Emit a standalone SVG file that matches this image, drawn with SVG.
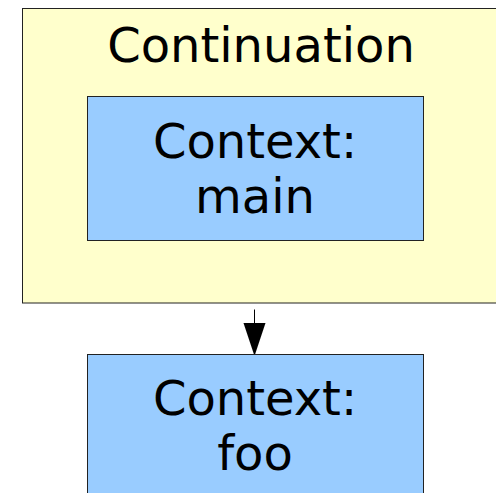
<svg xmlns="http://www.w3.org/2000/svg" width="496" height="493" viewBox="0 0 496 493">
  <style>
    .cont { fill: #ffffcc; stroke: #222; stroke-width: 1; }
    .ctx { fill: #99ccff; stroke: #222; stroke-width: 1; }
    .label { font-family: "DejaVu Sans", sans-serif; font-size: 48px; fill: #000; text-anchor: middle; }
    .edge { stroke: #000; stroke-width: 1; fill: none; }
  </style>
  <defs>
    <marker id="arrow" markerUnits="userSpaceOnUse" markerWidth="34" markerHeight="24" refX="33" refY="11" orient="auto">
      <path d="M0,0 L33,11 L0,22 Z" fill="#000"/>
    </marker>
  </defs>
  <rect width="496" height="493" fill="#fff"/>
  <g id="continuation">
    <rect class="cont" x="22.5" y="8.5" width="490" height="294.5"/>
    <text class="label" x="261" y="62">Continuation</text>
  </g>
  <g id="context-main">
    <rect class="ctx" x="87.5" y="96.5" width="336" height="144"/>
    <text class="label" x="255" y="158">Context:</text>
    <text class="label" x="255" y="213">main</text>
  </g>
  <g id="connectors">
    <path class="edge" d="M254.5,309.5 L254.5,356" marker-end="url(#arrow)"/>
  </g>
  <g id="context-foo">
    <rect class="ctx" x="87.5" y="354.5" width="336" height="160"/>
    <text class="label" x="255" y="415">Context:</text>
    <text class="label" x="255" y="470">foo</text>
  </g>
</svg>
